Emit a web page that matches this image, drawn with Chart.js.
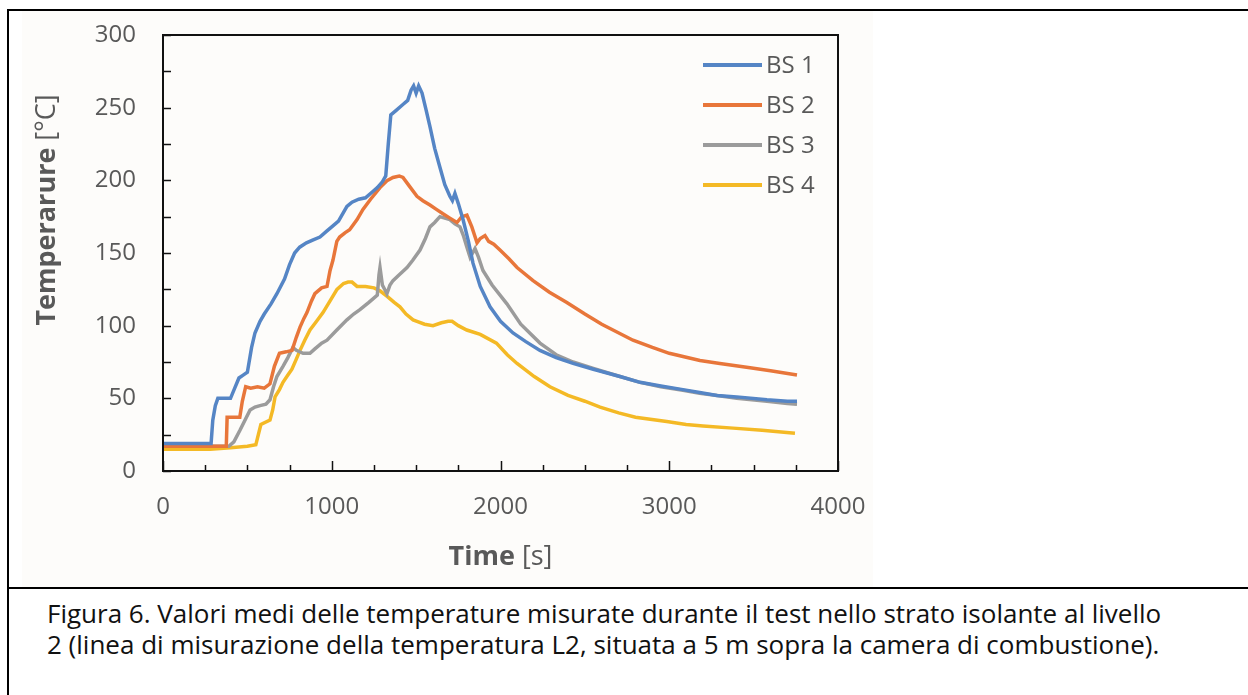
<!DOCTYPE html>
<html>
<head>
<meta charset="utf-8">
<script src="https://cdn.jsdelivr.net/npm/chart.js@4.4.1/dist/chart.umd.min.js"></script>
<style>
    body { margin:0; background:#fff; width:1248px; height:695px; overflow:hidden; position:relative; }
    #box { position:absolute; left:22px; top:11px; width:851px; height:576px; background:#fdfcfa; }
    .hline { position:absolute; height:2px; background:#000; }
    .vline { position:absolute; width:2px; background:#000; }
    #caption { position:absolute; left:47px; top:598px; font-family:"Open Sans", sans-serif; font-size:26px; line-height:31px; color:#111; white-space:nowrap; }
</style>
</head>
<body>
<div class="hline" style="left:7px; top:9px; width:1241px;"></div>
<div class="vline" style="left:7px; top:9px; height:686px;"></div>
<div class="hline" style="left:7px; top:587px; width:1241px;"></div>
<div id="box"><canvas id="chartTemp" width="851" height="576"></canvas></div>
<div id="caption">Figura 6. Valori medi delle temperature misurate durante il test nello strato isolante al livello<br>2 (linea di misurazione della temperatura L2, situata a 5 m sopra la camera di combustione).</div>

<script>
// etichette serie
var serie       =   ['BS 1', 'BS 2', 'BS 3', 'BS 4'];
var colori      =   ['#5585c5', '#e8763a', '#9b9b9b', '#f4b925'];

// BS 1
var tempoBS1    =   [0,285,295,310,325,400,425,450,475,500,525,545,575,600,640,675,720,750,780,810,850,890,930,970,1000,1040,1090,1120,1160,1200,1240,1270,1300,1320,1335,1350,1380,1420,1450,1470,1485,1500,1515,1535,1560,1582,1610,1641,1670,1700,1715,1730,1750,1778,1810,1837,1880,1938,2000,2074,2150,2234,2330,2430,2550,2708,2827,2950,3081,3180,3283,3400,3579,3700,3757];
var valBS1      =   [19,19,35,45,50,50,57,64,66,68,85,95,103,108,115,122,132,142,150,154,157,159,161,165,168,172,182,185,187,188,192,195,199,203,225,245,248,252,255,262,265,260,265,260,248,237,222,209,197,189,186,191,184,173,158,143,127,113,103,95,89,83,78,74,70,65,61,58.5,56,54,52,51,49,48,48];

// BS 2
var tempoBS2    =   [0,375,380,455,470,490,520,560,600,634,660,690,730,765,790,812,835,853,880,900,940,972,990,1007,1030,1047,1080,1106,1150,1185,1230,1286,1330,1363,1400,1422,1460,1505,1540,1582,1620,1659,1700,1742,1770,1801,1830,1861,1880,1908,1930,1960,1997,2050,2098,2193,2290,2393,2500,2600,2785,2900,3000,3182,3300,3479,3600,3757];
var valBS2      =   [17,17,37,37,48,58,57,58,57,60,72,81,82,83,92,99,105,109,117,122,126,127,138,145,158,161,164,166,173,180,187,195,200,202,203,202,196,189,186,183,180,177,174,171,175,176,168,157,160,162,158,156,152,146,140,131,123,116,108,101,90,85,81,76,74,71,69,66];

// BS 3
var tempoBS3    =   [0,390,420,456,490,516,545,575,610,634,655,675,711,740,770,790,830,871,900,940,972,1030,1090,1130,1167,1220,1270,1280,1286,1300,1327,1345,1363,1400,1446,1480,1523,1555,1582,1610,1641,1670,1700,1730,1760,1780,1801,1820,1849,1870,1896,1950,2038,2120,2234,2330,2430,2550,2708,2827,2950,3081,3180,3283,3400,3579,3700,3757];
var valBS3      =   [17,17,20,28,36,42,44,45,46,49,58,65,72,78,85,83,81,81,84,88,90,97,104,108,111,116,121,135,140,128,122,128,131,135,140,145,152,160,168,171,175,174,173,170,168,162,154,147,153,147,138,128,115,101,88,80,75,70.5,65,61,58,55.5,53.5,52,50,48,46.5,46];

// BS 4
var tempoBS4    =   [0,280,400,500,550,565,580,634,650,664,690,711,740,764,790,812,840,871,910,948,990,1031,1070,1097,1120,1150,1200,1250,1286,1330,1370,1404,1440,1482,1505,1550,1600,1650,1690,1713,1750,1800,1880,1976,2040,2098,2200,2293,2400,2500,2590,2700,2800,2985,3100,3200,3378,3550,3745];
var valBS4      =   [15,15,16,17,18,25,32,35,42,51,56,61,66,70,77,83,90,97,103,109,117,125,129,130,130,127,127,126,124,120,116,113,108,104,103,101,100,102,103,103,100,97,94,88,80,74,65,58,52,48,44,40,37,34,32,31,29.5,28,26];

var tempi       =   [tempoBS1, tempoBS2, tempoBS3, tempoBS4];
var valori      =   [valBS1, valBS2, valBS3, valBS4];

var grigio      =   '#595959';

function punti(t, v) {
    return t.map((x, i) => ({x: x, y: v[i]}));
}

// cornice, tacche interne, legenda e titoli degli assi
var disegnaExtra = {
    id: 'disegnaExtra',
    afterDraw(chart) {
        var ctx  = chart.ctx;
        var area = chart.chartArea;
        var sx   = chart.scales.x;
        var sy   = chart.scales.y;
        ctx.save();

        ctx.strokeStyle = '#111';
        ctx.lineWidth   = 1.5;
        sy.ticks.forEach(t => {
            var py = Math.round(sy.getPixelForValue(t.value)) + 0.5;
            ctx.beginPath();
            ctx.moveTo(area.left, py);
            ctx.lineTo(area.left + 8, py);
            ctx.stroke();
        });
        sx.ticks.forEach(t => {
            var px  = Math.round(sx.getPixelForValue(t.value)) + 0.5;
            var len = (t.value % 1000 === 0) ? 10 : 6;
            ctx.beginPath();
            ctx.moveTo(px, area.bottom);
            ctx.lineTo(px, area.bottom - len);
            ctx.stroke();
        });

        ctx.lineWidth = 2;
        ctx.strokeRect(area.left, area.top, area.right - area.left, area.bottom - area.top);

        // legenda
        ctx.font         = '24px "Open Sans"';
        ctx.textBaseline = 'middle';
        ctx.textAlign    = 'left';
        chart.data.datasets.forEach((ds, i) => {
            var y = area.top + 30 + 40 * i;
            ctx.strokeStyle = ds.borderColor;
            ctx.lineWidth   = 4;
            ctx.beginPath();
            ctx.moveTo(area.right - 135, y);
            ctx.lineTo(area.right - 76, y);
            ctx.stroke();
            ctx.fillStyle = grigio;
            ctx.fillText(ds.label, area.right - 72, y + 1);
        });

        // titoli
        function titolo(grassetto, normale, cx, cy) {
            ctx.font = 'bold 27px "Open Sans"';
            var w1 = ctx.measureText(grassetto).width;
            ctx.font = '27px "Open Sans"';
            var w2 = ctx.measureText(normale).width;
            var x0 = cx - (w1 + w2) / 2;
            ctx.fillStyle = grigio;
            ctx.textAlign = 'left';
            ctx.font = 'bold 27px "Open Sans"';
            ctx.fillText(grassetto, x0, cy);
            ctx.font = '27px "Open Sans"';
            ctx.fillText(normale, x0 + w1, cy);
        }
        titolo('Time', ' [s]', (area.left + area.right) / 2, 546);
        ctx.translate(25, 199);
        ctx.rotate(-Math.PI / 2);
        titolo('Temperarure', ' [°C]', 0, 0);

        ctx.restore();
    }
};

new Chart(document.getElementById('chartTemp'), {
    type: 'line',
    data: {
        datasets: serie.map((nome, i) => ({
            label           :   nome,
            data            :   punti(tempi[i], valori[i]),
            borderColor     :   colori[i],
            borderWidth     :   3.5,
            pointRadius     :   0,
            tension         :   0,
            fill            :   false
        }))
    },
    options: {
        responsive: false,
        animation: false,
        layout: { padding: { top: 24, right: 35, left: 0, bottom: 0 } },
        plugins: {
            legend: { display: false },
            tooltip: { enabled: false }
        },
        scales: {
            x: {
                type: 'linear',
                min: 0,
                max: 4000,
                grid: { display: false },
                border: { display: false },
                ticks: {
                    stepSize: 250,
                    autoSkip: false,
                    maxRotation: 0,
                    padding: 14,
                    color: grigio,
                    font: { family: 'Open Sans', size: 24 },
                    callback: v => (v % 1000 === 0) ? v : ''
                },
                afterFit: function (scale) {
                    scale.height = 116;
                    scale.paddingLeft = 0;
                    scale.paddingRight = 0;
                }
            },
            y: {
                min: 0,
                max: 300,
                grid: { display: false },
                border: { display: false },
                ticks: {
                    stepSize: 25,
                    autoSkip: false,
                    padding: 19,
                    color: grigio,
                    font: { family: 'Open Sans', size: 24 },
                    callback: v => (v % 50 === 0) ? v : ''
                },
                afterFit: function (scale) {
                    scale.width = 141;
                    scale.paddingTop = 0;
                    scale.paddingBottom = 0;
                }
            }
        }
    },
    plugins: [disegnaExtra]
});
</script>
</body>
</html>
